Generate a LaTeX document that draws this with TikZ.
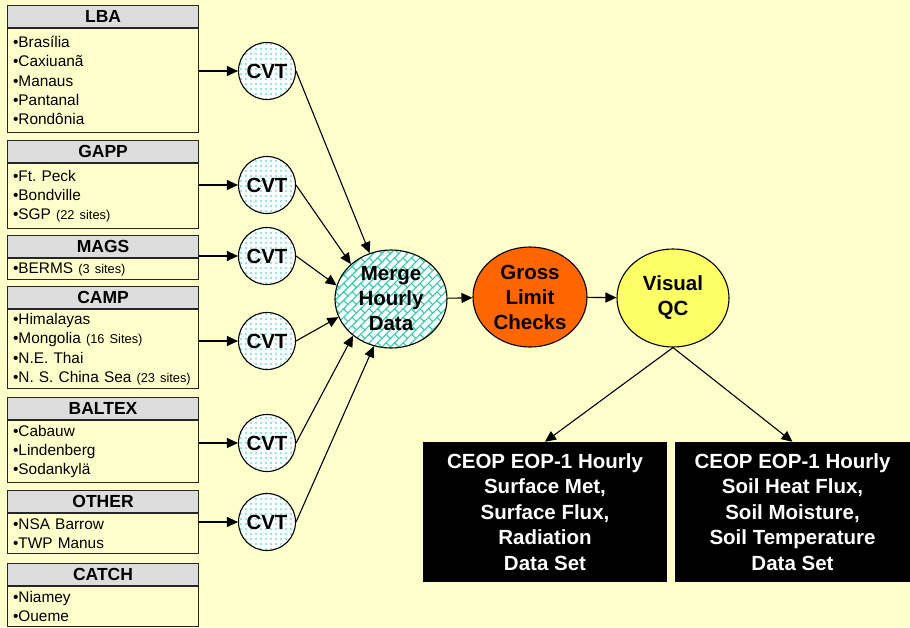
\documentclass[tikz,border=0pt]{standalone}
\usepackage{fontspec}
\setmainfont{Liberation Sans}
\usetikzlibrary{positioning,shapes.geometric,arrows.meta,patterns.meta}

\definecolor{paleyellow}{RGB}{255,255,204}
\definecolor{headgray}{RGB}{221,221,221}
\definecolor{dotteal}{RGB}{0,204,170}
\definecolor{brickteal}{RGB}{51,204,170}
\definecolor{grossorange}{RGB}{255,102,0}
\definecolor{qcyellow}{RGB}{255,255,102}

% sparse dots inside the CVT circles
\tikzdeclarepattern{
  name=cvtdots,
  type=colored,
  bottom left={(0pt,0pt)},
  top right={(4.5pt,4.5pt)},
  tile size={(4.5pt,4.5pt)},
  code={\fill[dotteal] (1.6pt,1.6pt) rectangle (2.9pt,2.9pt);}
}

% slanted bricks inside the merge ellipse
\tikzdeclarepattern{
  name=mergebricks,
  type=colored,
  bottom left={(-1pt,-1pt)},
  top right={(13pt,13pt)},
  tile size={(12pt,12pt)},
  tile transformation={rotate=45},
  code={
    \draw[brickteal, line width=1.1pt]
      (-1pt,0pt) -- (13pt,0pt) (-1pt,6pt) -- (13pt,6pt)
      (0pt,0pt) -- (0pt,6pt) (6pt,6pt) -- (6pt,12pt);
  }
}

\tikzset{
  grphead/.style={draw=black!85, line width=1.1pt, fill=headgray, anchor=north west,
    minimum width=191pt, minimum height=22pt, inner sep=0pt,
    font=\bfseries\fontsize{17.5}{20}\selectfont},
  grpbody/.style={draw=black!85, line width=1.1pt, fill=paleyellow, below=0pt of #1,
    minimum width=191pt, text width=180pt, inner xsep=5.5pt, inner ysep=1pt, align=left,
    font=\fontsize{15.4}{19.3}\selectfont},
  cvtnode/.style={circle, draw, line width=1.1pt, minimum size=57pt, inner sep=0pt,
    preaction={fill=white}, pattern=cvtdots,
    font=\bfseries\fontsize{20.5}{24}\selectfont},
  stepnode/.style={ellipse, draw, line width=1.1pt, minimum width=112pt, minimum height=98pt,
    inner sep=0pt, align=center, font=\bfseries\fontsize{20.5}{25}\selectfont},
  outbox/.style={fill=black, text=white, minimum height=140pt, inner sep=0pt, align=center,
    font=\bfseries\fontsize{20.5}{25.5}\selectfont},
  flow/.style={-{Triangle[length=11pt,width=10pt]}, line width=1.1pt}
}

\newcommand{\sitenote}[1]{{\fontsize{12.8}{14}\selectfont #1}}

\begin{document}
\frenchspacing
\begin{tikzpicture}[x=1pt, y=-1pt]
  % page and background
  \useasboundingbox (0,0) rectangle (910,627);
  \fill[paleyellow] (0,0) rectangle (910,627);

  % networks with their sites
  \node[grphead] (lba) at (7,5) {LBA};
  \node[grpbody=lba, minimum height=104pt] (lbabody)
    {•Brasília\\•Caxiuanã\\•Manaus\\•Pantanal\\•Rondônia};

  \node[grphead] (gapp) at (7,140) {GAPP};
  \node[grpbody=gapp, minimum height=65pt] (gappbody)
    {•Ft. Peck\\•Bondville\\•SGP \sitenote{(22 sites)}};

  \node[grphead] (mags) at (7,235) {MAGS};
  \node[grpbody=mags, minimum height=21pt] (magsbody)
    {•BERMS \sitenote{(3 sites)}};

  \node[grphead] (camp) at (7,286) {CAMP};
  \node[grpbody=camp, minimum height=79pt] (campbody)
    {•Himalayas\\•Mongolia \sitenote{(16 Sites)}\\•N.E. Thai\\\mbox{•N. S. China Sea \sitenote{(23 sites)}}};

  \node[grphead] (baltex) at (7,397) {BALTEX};
  \node[grpbody=baltex, minimum height=62pt] (baltexbody)
    {•Cabauw\\•Lindenberg\\•Sodankylä};

  \node[grphead] (other) at (7,490) {OTHER};
  \node[grpbody=other, minimum height=40pt] (otherbody)
    {•NSA Barrow\\•TWP Manus};

  \node[grphead] (catch) at (7,563) {CATCH};
  \node[grpbody=catch, minimum height=40pt] (catchbody)
    {•Niamey\\•Oueme};

  % conversion steps
  \node[cvtnode] (cvtlba) at (267,71) {CVT};
  \node[cvtnode] (cvtgapp) at (267,185) {CVT};
  \node[cvtnode] (cvtmags) at (267,256) {CVT};
  \node[cvtnode] (cvtcamp) at (267,341) {CVT};
  \node[cvtnode] (cvtbaltex) at (267,443) {CVT};
  \node[cvtnode] (cvtother) at (267,522) {CVT};

  % processing chain
  \node[stepnode, preaction={fill=white}, pattern=mergebricks] (merge) at (391,299) {Merge\\Hourly\\Data};
  \node[stepnode, fill=grossorange, minimum width=114pt, minimum height=100pt] (gross) at (530,297) {Gross\\Limit\\Checks};
  \node[stepnode, fill=qcyellow] (visual) at (673,298) {Visual\\QC};

  % final data sets
  \node[outbox, minimum width=244pt] (surface) at (545,512)
    {CEOP EOP-1 Hourly\\Surface Met,\\Surface Flux,\\Radiation\\Data Set};
  \node[outbox, minimum width=235pt] (soil) at (792.5,512)
    {CEOP EOP-1 Hourly\\Soil Heat Flux,\\Soil Moisture,\\Soil Temperature\\Data Set};

  % networks into CVT
  \draw[flow] (cvtlba.west -| lbabody.east) -- (cvtlba);
  \draw[flow] (cvtgapp.west -| gappbody.east) -- (cvtgapp);
  \draw[flow] (cvtmags.west -| magsbody.east) -- (cvtmags);
  \draw[flow] (cvtcamp.west -| campbody.east) -- (cvtcamp);
  \draw[flow] (cvtbaltex.west -| baltexbody.east) -- (cvtbaltex);
  \draw[flow] (cvtother.west -| otherbody.east) -- (cvtother);

  % CVT into merge
  \draw[flow] (cvtlba.east) -- (merge.115);
  \draw[flow] (cvtgapp.east) -- (merge.139);
  \draw[flow] (cvtmags.east) -- (merge.166);
  \draw[flow] (cvtcamp.east) -- (merge.199);
  \draw[flow] (cvtbaltex.east) -- (merge.224);
  \draw[flow] (cvtother.east) -- (merge.250);

  % along the chain and out
  \draw[flow] (merge) -- (gross);
  \draw[flow] (gross) -- (visual);
  \draw[flow] (visual.south) -- (surface.north);
  \draw[flow] (visual.south) -- (soil.north);
\end{tikzpicture}
\end{document}
